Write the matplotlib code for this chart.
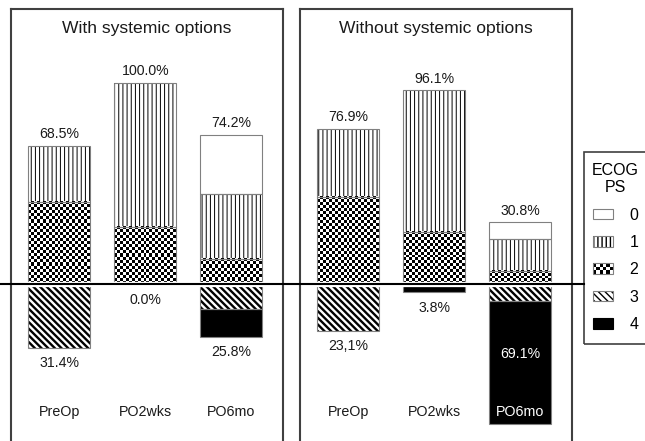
import matplotlib
matplotlib.use('Agg')
import matplotlib.pyplot as plt
import numpy as np
from matplotlib.patches import Rectangle, Patch
from matplotlib.legend_handler import HandlerBase
from matplotlib.lines import Line2D
import matplotlib.transforms as mtransforms

plt.rcParams['font.family'] = ['Liberation Sans', 'DejaVu Sans']

# ---------------- data ----------------
categories = ['PreOp', 'PO2wks', 'PO6mo']
panel_titles = ['With systemic options', 'Without systemic options']
ps_levels = ['0', '1', '2', '3', '4']

# percent of patients; ECOG 0-2 above the line, ECOG 3-4 below
with_ps0 = [0.0, 0.0, 29.4]
with_ps1 = [27.7, 71.5, 32.2]
with_ps2 = [40.8, 28.5, 12.6]
with_ps3 = [31.4, 0.0, 11.9]
with_ps4 = [0.0, 0.0, 13.9]
with_top_labels = ['68.5%', '100.0%', '74.2%']
with_bottom_labels = ['31.4%', '0.0%', '25.8%']

without_ps0 = [0.0, 0.0, 8.4]
without_ps1 = [33.6, 70.1, 15.7]
without_ps2 = [43.3, 26.0, 6.7]
without_ps3 = [23.1, 0.0, 8.2]
without_ps4 = [0.0, 3.8, 60.9]
without_top_labels = ['76.9%', '96.1%', '30.8%']
without_bottom_labels = ['23,1%', '3.8%', '69.1%']

# ---------------- layout ----------------
W, H = 645, 441
fig = plt.figure(figsize=(W / 100, H / 100), dpi=100)
fig.patch.set_facecolor('white')


def px_axes(l, t, r, b):
    return fig.add_axes([l / W, 1 - b / H, (r - l) / W, (b - t) / H])


ax1 = px_axes(11, 9, 283, 441)
ax2 = px_axes(300, 9, 572, 441)
XLIM = (-0.56, 2.6)
YLIM = (-77.5, 136.4)
EDGE = '#808080'
SPINE = '#404040'
HATCH_1 = '||||'
HATCH_3 = '\\' * 5


def set_hatch_lw(patches, lw):
    for p in patches:
        if hasattr(p, 'set_hatch_linewidth'):
            p.set_hatch_linewidth(lw)


def add_checker(ax, patch, sq_px=3.0):
    if patch.get_height() == 0:
        return
    bb = patch.get_window_extent()
    nx = max(1, int(round(bb.width / sq_px)))
    ny = max(1, int(round(bb.height / sq_px)))
    arr = np.indices((ny, nx)).sum(axis=0) % 2
    x0, y0 = patch.get_x(), patch.get_y()
    w, h = patch.get_width(), patch.get_height()
    ax.imshow(arr, extent=(x0, x0 + w, y0, y0 + h), origin='upper',
              cmap='gray_r', vmin=0, vmax=1, interpolation='nearest',
              aspect='auto', zorder=1.1)


def outline(ax, containers):
    for cont in containers:
        for p in cont:
            if p.get_height() != 0:
                ax.add_patch(Rectangle(p.get_xy(), p.get_width(), p.get_height(),
                                       fill=False, edgecolor=EDGE, linewidth=0.8,
                                       zorder=1.2))


def draw_panel(ax, title, ps0, ps1, ps2, ps3, ps4, top_labels, bottom_labels):
    ax.set_xlim(*XLIM)
    ax.set_ylim(*YLIM)
    x = np.arange(len(categories))
    w = 0.72
    p0, p1, p2 = np.array(ps0), np.array(ps1), np.array(ps2)
    p3, p4 = np.array(ps3), np.array(ps4)

    b2 = ax.bar(x, p2, w, bottom=0, color='white', linewidth=0, zorder=1)
    b1 = ax.bar(x, p1, w, bottom=p2, color='white', edgecolor='black',
                linewidth=0, hatch=HATCH_1, zorder=1)
    b0 = ax.bar(x, p0, w, bottom=p2 + p1, color='white', linewidth=0, zorder=1)
    b3 = ax.bar(x, -p3, w, bottom=0, color='white', edgecolor='black',
                linewidth=0, hatch=HATCH_3, zorder=1)
    b4 = ax.bar(x, -p4, w, bottom=-p3, color='black', edgecolor='black',
                linewidth=0, zorder=1)
    set_hatch_lw(b1, 0.7)
    set_hatch_lw(b3, 1.7)
    for p in b2:
        add_checker(ax, p)
    outline(ax, [b2, b1, b0, b3, b4])

    up = p0 + p1 + p2
    down = p3 + p4
    for xi, u, d, tl, bl, cat in zip(x, up, down, top_labels, bottom_labels, categories):
        ax.text(xi, u + 5.8, tl, ha='center', va='center', fontsize=10.2, color='#1a1a1a')
        if d > 50:
            ax.text(xi, -d / 2, bl, ha='center', va='center', fontsize=10.2, color='white')
        else:
            ax.text(xi, -d - 7.6, bl, ha='center', va='center', fontsize=10.2, color='#1a1a1a')
        ax.text(xi, -63.1, cat, ha='center', va='center', fontsize=10.3,
                color='white' if d > 63.1 else '#1a1a1a')

    trans = mtransforms.blended_transform_factory(ax.transAxes, ax.transData)
    ax.text(0.5, 126.5, title, transform=trans, ha='center', va='center',
            fontsize=12.6, color='#1a1a1a')

    ax.set_xticks([])
    ax.set_yticks([])
    ax.spines['bottom'].set_visible(False)
    for s in ['left', 'right', 'top']:
        ax.spines[s].set_color(SPINE)
        ax.spines[s].set_linewidth(1.5)
    ax.axhline(0, color='white', linewidth=3.8, zorder=2.4)
    ax.set_xlim(*XLIM)
    ax.set_ylim(*YLIM)


draw_panel(ax1, panel_titles[0], with_ps0, with_ps1, with_ps2, with_ps3, with_ps4,
           with_top_labels, with_bottom_labels)
draw_panel(ax2, panel_titles[1], without_ps0, without_ps1, without_ps2, without_ps3,
           without_ps4, without_top_labels, without_bottom_labels)

# baseline across the figure
base_tr = mtransforms.blended_transform_factory(fig.transFigure, ax1.transData)
fig.add_artist(Line2D([0, 584 / W], [0, 0], transform=base_tr, color='black',
                      linewidth=1.5, zorder=5))


# ---------------- legend ----------------
class CheckerKey:
    pass


class HandlerChecker(HandlerBase):
    def create_artists(self, legend, orig_handle, xdescent, ydescent,
                       width, height, fontsize, trans):
        arts = [Rectangle((-xdescent, -ydescent), width, height,
                          facecolor='white', edgecolor='none', transform=trans)]
        nx, ny = 6, 3
        sw, sh = width / nx, height / ny
        for i in range(nx):
            for j in range(ny):
                if (i + j) % 2 == 0:
                    arts.append(Rectangle((-xdescent + i * sw, -ydescent + j * sh),
                                          sw, sh, facecolor='black',
                                          edgecolor='none', transform=trans))
        arts.append(Rectangle((-xdescent, -ydescent), width, height,
                              facecolor='none', edgecolor=EDGE, linewidth=0.8,
                              transform=trans))
        return arts


h1a = Patch(facecolor='white', edgecolor='black', linewidth=0, hatch=HATCH_1)
h3a = Patch(facecolor='white', edgecolor='black', linewidth=0, hatch=HATCH_3)
set_hatch_lw([h1a], 0.7)
set_hatch_lw([h3a], 1.7)
handles = [
    Patch(facecolor='white', edgecolor=EDGE, linewidth=0.8),
    (h1a, Patch(fill=False, edgecolor=EDGE, linewidth=0.8)),
    CheckerKey(),
    (h3a, Patch(fill=False, edgecolor=EDGE, linewidth=0.8)),
    Patch(facecolor='black', edgecolor='black', linewidth=0.8),
]
leg = fig.legend(handles, ps_levels, title='ECOG\nPS', loc='upper left',
                 bbox_to_anchor=(592 / W, 1 - 163 / H), bbox_transform=fig.transFigure,
                 borderaxespad=0, frameon=False,
                 fontsize=11.5, title_fontsize=11.5, handlelength=1.3, handleheight=0.65,
                 handletextpad=1.0, labelspacing=0.77, borderpad=0,
                 handler_map={CheckerKey: HandlerChecker()})
leg.get_title().set_multialignment('center')

# legend frame (runs off the right edge of the figure, as in the original)
fig.add_artist(Rectangle((584 / W, 1 - 344 / H), 70 / W, (344 - 152) / H,
                         transform=fig.transFigure, fill=False, edgecolor=SPINE,
                         linewidth=1.2, zorder=4))

fig.savefig('out.png', dpi=100, facecolor='white')
